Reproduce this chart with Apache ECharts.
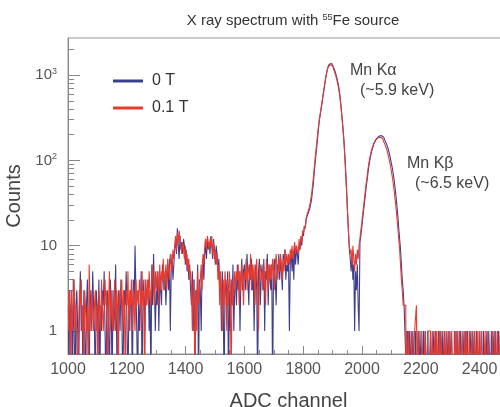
<!DOCTYPE html>
<html>
<head>
<meta charset="utf-8">
<script src="https://cdn.jsdelivr.net/npm/echarts@6/dist/echarts.min.js"></script>
<style>
html,body{margin:0;padding:0;background:#fff;}
#chart{width:500px;height:407px;}
</style>
</head>
<body>
<div id="chart"></div>
<script>
// Histogram definition: bins of 3 ADC channels starting at channel 1000
const BIN_START = 1000;
const BIN_WIDTH = 3;

const seriesNames = ['0 T', '0.1 T'];

// Counts per bin, 0 T (10 bins = 30 channels per row: 1000, 1030, ... 2470)
const counts0T = [
  2,0,3,1,2,0,4,1,0,2,
  3,1,0,2,5,1,2,0,3,1,
  0,2,4,1,0,3,2,1,5,2,
  1,0,3,2,1,4,0,2,1,3,
  2,5,1,0,2,3,1,0,4,2,
  0,3,1,2,6,1,0,3,2,1,
  4,2,0,1,3,2,5,1,0,2,
  1,3,2,0,4,2,10,3,1,0,
  3,1,2,5,0,2,4,1,3,2,
  2,4,1,3,0,6,2,8,3,1,
  3,2,5,1,4,3,2,6,4,3,
  5,2,4,6,3,7,1,5,8,4,
  6,9,12,8,16,10,7,13,9,11,
  8,12,10,6,9,5,7,4,6,3,
  2,5,1,4,0,3,2,6,0,4,
  3,1,5,7,4,8,10,7,12,9,
  11,8,13,10,7,12,9,6,10,8,
  5,7,3,4,1,5,2,0,3,4,
  2,5,0,3,1,4,2,6,1,3,
  4,2,6,3,5,1,4,7,3,5,
  6,3,5,8,4,2,6,4,7,3,
  5,1,4,6,3,0,5,7,2,4,
  6,3,7,1,5,4,8,2,6,4,
  3,6,0,5,7,4,2,6,5,8,
  4,7,5,3,8,6,9,4,6,5,
  7,1,6,9,5,8,4,10,6,9,
  8,6,10,9,12,10,14,13,17,16,
  20,22,21,25,27,30,34,42,51,68,
  89,113,144,182,234,295,342,400,470,553,
  648,760,890,1020,1150,1255,1335,1374,1365,1340,
  1295,1240,1170,1090,1005,915,820,725,625,495,
  390,300,225,165,110,70,42,24,14,9,
  7,5,8,4,6,1,5,3,6,2,
  1,11,13,16,20,25,31,38,48,57,
  70,84,98,111,124,136,147,157,166,174,
  180,185,190,194,196,195,192,187,181,174,
  166,157,147,136,124,112,100,89,78,67,
  57,46,37,29,22,16,12,9,6,4,
  3,2,1,1,0,1,0,1,0,1,
  0,1,1,0,1,0,0,1,0,1,
  1,0,0,1,0,1,1,0,1,0,
  0,1,0,0,1,1,0,1,0,0,
  1,0,1,0,0,1,0,1,1,0,
  0,1,0,1,1,0,0,0,1,0,
  1,0,1,0,0,1,1,0,0,1,
  0,1,0,1,0,0,1,1,0,1,
  1,0,0,1,1,0,0,1,0,0,
  0,1,1,0,0,1,0,1,1,0,
  1,0,0,1,0,1,0,0,1,1,
  0,1,0,0,1,0,1,1,0,1
];

// Counts per bin, 0.1 T
const counts01T = [
  1,3,2,0,3,1,2,4,1,2,
  2,0,1,3,2,4,1,2,0,3,
  3,1,2,0,6,2,1,3,2,1,
  2,3,1,2,0,3,2,1,4,2,
  1,2,4,2,3,0,2,5,1,3,
  3,1,2,4,1,3,2,0,3,2,
  2,4,1,3,2,0,3,2,5,1,
  3,2,4,1,3,2,1,4,2,3,
  2,4,3,1,5,2,3,0,4,2,
  4,2,5,3,2,4,6,3,2,5,
  3,5,4,2,6,3,5,4,7,3,
  4,6,3,7,5,4,8,6,5,9,
  7,10,13,9,14,11,15,12,10,8,
  11,9,7,10,6,8,5,7,4,5,
  3,1,4,2,0,3,1,5,2,3,
  4,6,3,8,6,10,12,9,13,11,
  9,12,10,13,8,11,7,9,6,8,
  4,6,2,5,3,1,4,2,5,3,
  1,4,2,5,3,0,4,2,3,5,
  3,5,4,6,2,5,3,6,4,2,
  5,4,7,3,6,5,4,8,3,6,
  4,6,2,5,7,3,1,5,6,4,
  5,3,6,4,2,7,5,3,6,4,
  6,4,7,5,3,6,8,5,4,7,
  5,8,6,4,7,5,9,6,8,6,
  8,6,9,7,10,7,9,11,8,10,
  10,8,12,9,13,11,15,14,17,16,
  21,23,24,27,29,34,39,48,60,78,
  101,128,160,203,255,308,355,415,485,570,
  670,785,915,1040,1160,1245,1300,1320,1310,1280,
  1235,1180,1110,1030,945,860,770,675,585,470,
  370,285,215,155,102,64,40,24,15,10,
  8,9,6,10,7,5,8,6,9,7,
  10,12,15,18,23,28,35,43,53,63,
  77,91,105,118,130,142,152,161,169,176,
  181,185,188,189,187,183,178,172,165,157,
  148,138,127,116,104,93,82,71,61,51,
  42,34,27,21,16,12,9,6,4,3,
  2,2,2,0,1,0,1,1,0,0,
  1,0,0,1,1,2,0,1,0,0,
  0,1,1,0,0,1,0,0,1,1,
  1,0,0,1,0,0,1,0,1,0,
  0,1,0,1,1,0,0,1,0,1,
  1,0,1,0,0,1,1,0,0,1,
  0,1,0,0,1,0,0,1,1,0,
  1,0,1,1,0,1,0,0,1,0,
  0,1,0,0,1,0,1,0,0,1,
  1,0,0,1,0,0,1,1,0,0,
  0,1,1,0,1,0,0,1,0,0,
  1,0,0,1,0,1,0,0,1,0
];

// Axis tick values
const yLabelValues = [1, 10, 100, 1000];
const yMinorTickValues = [2,3,4,5,6,7,8,9,20,30,40,50,60,70,80,90,200,300,400,500,600,700,800,900,2000];
const Y_MIN = 0.537, Y_MAX = 2722;
const X_MIN = 1000, X_MAX = 2500, X_INTERVAL = 200;

const FONT = '"Liberation Sans", Arial, Helvetica, sans-serif';
const BLUE = '#3d3f8e';
const RED = '#ea3a2e';

// empty bins drop below the frame bottom (clipped), as ROOT draws them
const ZERO_FLOOR = 0.2;
function toSeriesData(counts) {
  return counts.map((c, i) => [BIN_START + BIN_WIDTH * (i + 0.5), c > 0 ? c : ZERO_FLOOR]);
}

const chart = echarts.init(document.getElementById('chart'), null, {renderer: 'canvas'});

const option = {
  animation: false,
  textStyle: {fontFamily: FONT},
  grid: {left: 68, top: 38, width: 441, height: 316, outerBoundsMode: 'none', containLabel: false,
         show: true, borderColor: '#999', borderWidth: 1, backgroundColor: 'transparent'},
  legend: {
    data: seriesNames,
    orient: 'vertical',
    left: 113,
    top: 73,
    padding: 0,
    itemWidth: 30,
    itemHeight: 3,
    itemGap: 11,
    icon: 'rect',
    textStyle: {fontSize: 16, color: '#333', fontFamily: FONT, lineHeight: 16, padding: [0, 0, 0, 4]}
  },
  xAxis: {
    type: 'value',
    min: X_MIN,
    max: X_MAX,
    interval: X_INTERVAL,
    name: 'ADC channel',
    nameLocation: 'middle',
    nameGap: 37,
    nameTextStyle: {fontSize: 20, color: '#444', fontFamily: FONT},
    axisLine: {show: true, lineStyle: {color: '#888', width: 1}},
    axisTick: {show: true, inside: true, length: 8, lineStyle: {color: '#888'}},
    minorTick: {show: true, splitNumber: 4, length: 4, lineStyle: {color: '#888'}},
    axisLabel: {fontSize: 16, color: '#555', margin: 8, showMaxLabel: false, fontFamily: FONT,
                formatter: function (v) { return String(Math.round(v)); }},
    splitLine: {show: false},
    minorSplitLine: {show: false}
  },
  yAxis: [
    {
      type: 'log',
      min: Y_MIN,
      max: Y_MAX,
      name: 'Counts',
      nameLocation: 'middle',
      nameGap: 38,
      nameTextStyle: {fontSize: 20, color: '#444', fontFamily: FONT},
      axisLine: {show: true, lineStyle: {color: '#888', width: 1}},
      axisTick: {show: true, inside: true, length: 12, customValues: yLabelValues, lineStyle: {color: '#888'}},
      axisLabel: {
        customValues: yLabelValues,
        margin: 11,
        color: '#555',
        fontSize: 15,
        fontFamily: FONT,
        formatter: function (v) {
          if (Math.abs(v - 1000) < 1e-6) return '{n|10}{s|3}';
          if (Math.abs(v - 100) < 1e-6) return '{n|10}{s|2}';
          return '{n|' + Math.round(v) + '}';
        },
        rich: {
          n: {fontSize: 15, color: '#555', fontFamily: FONT, lineHeight: 16},
          s: {fontSize: 9, color: '#555', fontFamily: FONT, lineHeight: 9, verticalAlign: 'top'}
        }
      },
      splitLine: {show: false}
    },
    {
      type: 'log',
      min: Y_MIN,
      max: Y_MAX,
      position: 'left',
      offset: 0,
      axisLine: {show: false},
      axisTick: {show: true, inside: true, length: 6, customValues: yMinorTickValues, lineStyle: {color: '#888'}},
      axisLabel: {show: false},
      splitLine: {show: false}
    }
  ],
  series: [
    {
      name: seriesNames[0],
      type: 'line',
      step: 'middle',
      yAxisIndex: 0,
      showSymbol: false,
      symbol: 'none',
      clip: true,
      color: BLUE,
      lineStyle: {color: BLUE, width: 1.1},
      data: toSeriesData(counts0T)
    },
    {
      name: seriesNames[1],
      type: 'line',
      step: 'middle',
      yAxisIndex: 0,
      showSymbol: false,
      symbol: 'none',
      clip: true,
      color: RED,
      lineStyle: {color: RED, width: 1.1},
      data: toSeriesData(counts01T)
    }
  ],
  graphic: [
    {
      type: 'text', x: 293, y: 21,
      style: {
        text: '{a|X ray spectrum with }{s|55}{a|Fe source}',
        align: 'center', verticalAlign: 'middle',
        rich: {
          a: {fontSize: 15, fill: '#333', fontFamily: FONT, lineHeight: 16},
          s: {fontSize: 9, fill: '#333', fontFamily: FONT, lineHeight: 9, verticalAlign: 'top'}
        }
      }
    },
    {type: 'text', x: 350, y: 71, style: {text: 'Mn K\u03b1', fontSize: 16, fill: '#444', fontFamily: FONT, verticalAlign: 'middle'}},
    {type: 'text', x: 360, y: 91, style: {text: '(~5.9 keV)', fontSize: 16, fill: '#444', fontFamily: FONT, verticalAlign: 'middle'}},
    {type: 'text', x: 407, y: 164, style: {text: 'Mn K\u03b2', fontSize: 16, fill: '#444', fontFamily: FONT, verticalAlign: 'middle'}},
    {type: 'text', x: 415, y: 184, style: {text: '(~6.5 keV)', fontSize: 16, fill: '#444', fontFamily: FONT, verticalAlign: 'middle'}}
  ]
};

chart.setOption(option);
</script>
</body>
</html>
